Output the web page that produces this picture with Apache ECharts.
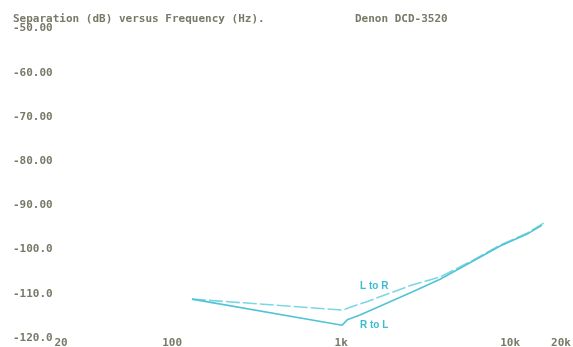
<!DOCTYPE html>
<html>
<head>
<meta charset="utf-8">
<script src="https://cdn.jsdelivr.net/npm/echarts@6/dist/echarts.min.js"></script>
<style>
  html, body { margin: 0; padding: 0; background: #ffffff; }
  #chart { width: 573px; height: 347px; }
</style>
</head>
<body>
<div id="chart"></div>
<script>
// Channel separation, Denon DCD-3520 (dB vs Hz)
const titleText = 'Separation (dB) versus Frequency (Hz).';
const modelText = 'Denon DCD-3520';

const freqTicks = [20, 100, 1000, 10000, 20000];
const freqTickLabels = ['20', '100', '1k', '10k', '20k'];
const dbTicks = [-120, -110, -100, -90, -80, -70, -60, -50];
const dbTickLabels = ['-120.0', '-110.0', '-100.0', '-90.00', '-80.00', '-70.00', '-60.00', '-50.00'];

// Left to right crosstalk
const lToRFreq = [131, 1030, 1100, 1390, 2630, 3850, 6040, 8730, 12600, 16100];
const lToRdB   = [-111.2, -113.7, -113.2, -111.9, -108.0, -106.2, -102.4, -99.0, -96.3, -93.8];

// Right to left crosstalk
const rToLFreq = [131, 1014, 1087, 1294, 2630, 3850, 6040, 8730, 12600, 15400];
const rToLdB   = [-111.2, -117.1, -115.9, -114.8, -109.6, -106.7, -102.6, -99.2, -96.5, -94.5];

const lToRName = 'L to R';
const rToLName = 'R to L';
const lToRLabelAt = [1294, -108.3];
const rToLLabelAt = [1294, -117.1];

const lg = Math.log10;
const toPairs = (fs, ds) => fs.map((f, i) => [lg(f), ds[i]]);

const textFont = '"DejaVu Sans Mono", monospace';
const textColor = '#797969';

const chart = echarts.init(document.getElementById('chart'), null, { renderer: 'canvas' });

chart.setOption({
  animation: false,
  backgroundColor: '#ffffff',
  grid: { left: 54, right: 12, top: 28.5, bottom: 9, containLabel: false, outerBoundsMode: 'none' },
  xAxis: {
    type: 'value',
    min: lg(20),
    max: lg(20000),
    axisLine: { show: false },
    axisTick: { show: false },
    splitLine: { show: false },
    axisLabel: {
      customValues: freqTicks.map(lg),
      margin: 0,
      fontFamily: textFont,
      fontSize: 11,
      fontWeight: 'bold',
      color: textColor,
      formatter: (v) => {
        let best = 0;
        freqTicks.forEach((f, i) => { if (Math.abs(lg(f) - v) < Math.abs(lg(freqTicks[best]) - v)) best = i; });
        return best === 0 ? '{l|' + freqTickLabels[best] + '}' : freqTickLabels[best];
      },
      rich: { l: { align: 'left', padding: [0, 0, 0, 14], fontFamily: textFont, fontSize: 11, fontWeight: 'bold', color: textColor } }
    }
  },
  yAxis: {
    type: 'value',
    min: -120,
    max: -50,
    interval: 10,
    axisLine: { show: false },
    axisTick: { show: false },
    splitLine: { show: false },
    axisLabel: {
      align: 'left',
      margin: 41,
      fontFamily: textFont,
      fontSize: 11,
      fontWeight: 'bold',
      color: textColor,
      formatter: (v) => {
        const i = dbTicks.indexOf(Math.round(v));
        return i >= 0 ? dbTickLabels[i] : '';
      }
    }
  },
  series: [
    {
      name: lToRName,
      type: 'line',
      data: toPairs(lToRFreq, lToRdB),
      showSymbol: false,
      lineStyle: { color: '#7cd7e3', width: 1.6, type: [14, 3] },
      z: 2
    },
    {
      name: rToLName,
      type: 'line',
      data: toPairs(rToLFreq, rToLdB),
      showSymbol: false,
      lineStyle: { color: '#52c3d7', width: 1.6 },
      z: 3
    }
  ]
});

// Texts and curve names, placed through the grid's own coordinate mapping
const pL = chart.convertToPixel({ gridIndex: 0 }, [lg(lToRLabelAt[0]), lToRLabelAt[1]]);
const pR = chart.convertToPixel({ gridIndex: 0 }, [lg(rToLLabelAt[0]), rToLLabelAt[1]]);
const nameStyle = { fontFamily: '"Liberation Sans", Arial, sans-serif', fontSize: 10, fontWeight: 'bold', fill: '#3dbcd0', verticalAlign: 'middle' };

chart.setOption({
  graphic: [
    { type: 'text', left: 13, top: 14, style: { text: titleText, font: 'bold 11px ' + textFont, fill: textColor } },
    { type: 'text', left: 355, top: 14, style: { text: modelText, font: 'bold 11px ' + textFont, fill: textColor } },
    { type: 'text', x: pL[0], y: pL[1], style: Object.assign({ text: lToRName }, nameStyle) },
    { type: 'text', x: pR[0], y: pR[1], style: Object.assign({ text: rToLName }, nameStyle) }
  ]
});
</script>
</body>
</html>
